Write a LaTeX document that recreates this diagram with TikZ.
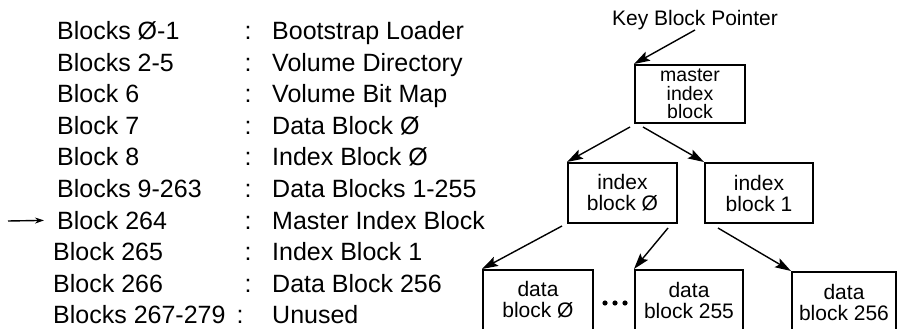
\documentclass[tikz,border=0pt]{standalone}
\usepackage{fontspec}
\setmainfont{Liberation Sans}
\usetikzlibrary{arrows.meta}
\begin{document}
\begin{tikzpicture}[x=1pt,y=-1pt,
    entry/.style={anchor=base west,inner sep=0pt,font=\fontsize{25}{25}\selectfont},
    colon/.style={anchor=base,inner sep=0pt,font=\fontsize{25}{25}\selectfont},
    blk/.style={draw,line width=2pt,inner sep=0pt,align=center,minimum height=60pt,font=\fontsize{21}{21}\selectfont},
    ptr/.style={-{Stealth[length=16pt,width=10pt,inset=3pt]},line width=1.4pt}]
    \useasboundingbox (0,0) rectangle (898,329);
            % block map
            \node   (l1) at (57,39.5) [entry] {Blocks Ø-1};
            \node   (l2) at (57,71.1) [entry] {Blocks 2-5};
            \node   (l3) at (57,102.7) [entry] {Block 6};
            \node   (l4) at (57,134.3) [entry] {Block 7};
            \node   (l5) at (57,165.9) [entry] {Block 8};
            \node   (l6) at (57,197.5) [entry] {Blocks 9-263};
            \node   (l7) at (57,229.1) [entry] {Block 264};
            \node   (l8) at (53,260.7) [entry] {Block 265};
            \node   (l9) at (53,292.3) [entry] {Block 266};
            \node   (l10) at (53,323.9) [entry] {Blocks 267-279};
            \node   (c1) at (248,39.5) [colon] {:};
            \node   (c2) at (248,71.1) [colon] {:};
            \node   (c3) at (248,102.7) [colon] {:};
            \node   (c4) at (248,134.3) [colon] {:};
            \node   (c5) at (248,165.9) [colon] {:};
            \node   (c6) at (248,197.5) [colon] {:};
            \node   (c7) at (248,229.1) [colon] {:};
            \node   (c8) at (248,260.7) [colon] {:};
            \node   (c9) at (248,292.3) [colon] {:};
            \node   (c10) at (240,323.9) [colon] {:};
            \node   (d1) at (272,39.5) [entry] {Bootstrap Loader};
            \node   (d2) at (272,71.1) [entry] {Volume Directory};
            \node   (d3) at (272,102.7) [entry] {Volume Bit Map};
            \node   (d4) at (272,134.3) [entry] {Data Block Ø};
            \node   (d5) at (272,165.9) [entry] {Index Block Ø};
            \node   (d6) at (272,197.5) [entry] {Data Blocks 1-255};
            \node   (d7) at (272,229.1) [entry] {Master Index Block};
            \node   (d8) at (272,260.7) [entry] {Index Block 1};
            \node   (d9) at (272,292.3) [entry] {Data Block 256};
            \node   (d10) at (272,323.9) [entry] {Unused};
            \coordinate (here) at (8,221);
            \draw[-{Stealth[length=9pt,width=6pt]},line width=1.4pt,shorten >=13pt] (here) -- (l7.west);
            % index tree
            \node   (kbp) at (695,20) [font=\fontsize{21}{21}\selectfont,inner sep=0pt] {Key Block Pointer};
            \node   (master) at (690,94) [blk,minimum width=110pt,minimum height=58pt,font=\fontsize{19.5}{18.5}\selectfont] {master\\index\\block};
            \node   (ix0) at (622.5,193) [blk,minimum width=109pt] {index\\block Ø};
            \node   (ix1) at (759,193) [blk,minimum width=108pt] {index\\block 1};
            \node   (db0) at (538,300) [blk,minimum width=110pt] {data\\block Ø};
            \node   (db255) at (689,300) [blk,minimum width=108pt] {data\\block 255};
            \node   (db256) at (844,302) [blk,minimum width=104pt] {data\\block 256};
            \foreach \x in {605,615,625}
                \fill (\x,303) circle (2.6);
            \coordinate (m0) at (630,127);
            \coordinate (m1) at (643,127);
            \coordinate (i0) at (562,226);
            \coordinate (i255) at (668,228);
            \coordinate (i256) at (718,228);
            \draw
            (kbp.south) edge[ptr] (master.north west)
            (m0) edge[ptr] (ix0.north west)
            (m1) edge[ptr] (ix1.north west)
            (i0) edge[ptr] (db0.north west)
            (i255) edge[ptr] (db255.north west)
            (i256) edge[ptr] (db256.north west)
            ;
\end{tikzpicture}
\end{document}
